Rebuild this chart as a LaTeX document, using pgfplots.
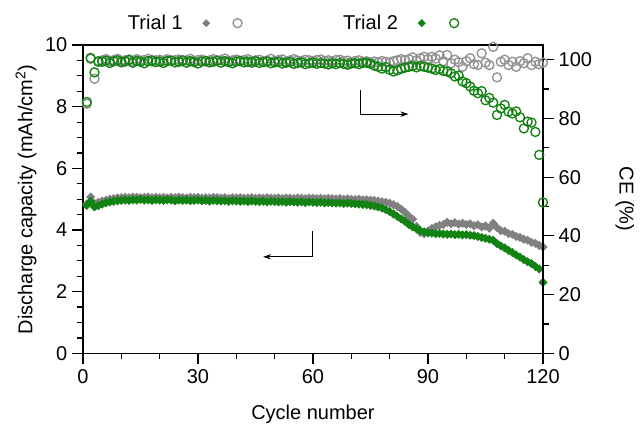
\documentclass[border=0pt]{standalone}
\usepackage{fontspec}
\setmainfont{Liberation Sans}
\usepackage{pgfplots}
\usepackage{pgfplotstable}
\pgfplotsset{compat=1.18}
\usetikzlibrary{arrows.meta}
\definecolor{tgray}{RGB}{128,128,128}
\definecolor{cgray}{RGB}{145,145,145}
\definecolor{tgreen}{RGB}{18,130,18}
\pgfplotstableread{
cycle c1 c2 e1 e2
1 4.85 4.80 85.0 85.6
2 5.07 4.93 100.3 100.6
3 4.86 4.75 93.5 95.7
4 4.90 4.79 99.2 99.5
5 4.94 4.84 99.8 99.3
6 4.97 4.88 100.2 99.7
7 5.00 4.91 99.5 98.9
8 5.02 4.93 99.9 99.5
9 5.04 4.95 100.3 99.8
10 5.05 4.96 99.6 99.1
11 5.06 4.97 99.8 99.4
12 5.05 4.96 100.1 99.9
13 5.07 4.98 99.5 99.0
14 5.06 4.97 100.2 99.6
15 5.05 4.99 99.7 99.3
16 5.06 4.97 99.9 98.8
17 5.07 4.98 100.3 99.5
18 5.05 4.96 99.4 99.8
19 5.06 4.98 99.8 99.2
20 5.05 4.97 100.0 99.4
21 5.06 4.96 99.6 98.9
22 5.04 4.98 100.2 99.6
23 5.06 4.97 99.7 99.7
24 5.05 4.95 99.9 99.1
25 5.07 4.97 100.1 99.3
26 5.05 4.96 99.5 99.8
27 5.04 4.97 99.8 99.0
28 5.06 4.95 100.3 99.5
29 5.05 4.96 99.6 99.2
30 5.06 4.97 99.9 98.7
31 5.04 4.95 100.0 99.4
32 5.05 4.96 99.4 99.6
33 5.04 4.94 99.8 99.1
34 5.06 4.96 100.2 99.3
35 5.05 4.95 99.7 99.7
36 5.04 4.94 99.9 99.0
37 5.05 4.95 100.4 99.5
38 5.03 4.93 99.6 99.2
39 5.05 4.95 99.8 98.8
40 5.04 4.94 100.1 99.4
41 5.05 4.93 99.5 99.6
42 5.03 4.94 99.9 99.1
43 5.04 4.92 100.2 99.3
44 5.05 4.94 99.6 99.0
45 5.03 4.93 99.8 99.5
46 5.04 4.92 100.0 98.9
47 5.03 4.93 99.5 99.2
48 5.05 4.91 99.7 99.4
49 5.04 4.93 100.3 98.8
50 5.03 4.92 99.6 99.1
51 5.04 4.91 99.9 99.3
52 5.02 4.92 100.1 98.7
53 5.04 4.90 99.4 99.0
54 5.03 4.92 99.8 99.2
55 5.02 4.91 100.2 98.6
56 5.04 4.90 99.7 98.9
57 5.03 4.91 99.6 99.1
58 5.02 4.89 100.0 98.5
59 5.04 4.91 99.8 98.8
60 5.03 4.90 99.5 99.0
61 5.02 4.89 99.9 98.6
62 5.03 4.90 100.1 98.9
63 5.01 4.88 99.6 98.7
64 5.03 4.89 99.8 98.4
65 5.02 4.88 99.4 98.8
66 5.01 4.87 99.9 98.5
67 5.02 4.88 100.0 98.9
68 5.00 4.86 99.5 98.6
69 5.01 4.87 99.7 98.3
70 5.00 4.86 99.2 98.7
71 4.99 4.85 99.6 98.8
72 5.00 4.84 99.8 98.5
73 4.98 4.83 99.3 98.9
74 4.98 4.82 99.5 99.0
75 4.97 4.80 99.0 98.6
76 4.96 4.78 99.4 98.0
77 4.94 4.75 99.1 97.6
78 4.92 4.71 99.6 97.0
79 4.90 4.66 99.3 97.5
80 4.87 4.60 99.0 96.6
81 4.82 4.52 99.5 96.0
82 4.76 4.44 99.8 96.4
83 4.68 4.36 100.2 96.9
84 4.57 4.28 99.9 97.3
85 4.45 4.18 100.2 97.6
86 4.35 4.10 100.8 97.9
87 4.12 4.04 99.8 97.4
88 3.92 3.98 100.5 97.9
89 3.88 3.94 101.0 97.6
90 3.97 3.91 100.2 97.3
91 4.05 3.90 101.0 97.0
92 4.10 3.88 100.4 96.5
93 4.15 3.89 101.5 96.8
94 4.18 3.87 99.5 96.2
95 4.25 3.86 101.6 96.0
96 4.20 3.87 98.8 95.4
97 4.24 3.85 100.0 94.3
98 4.19 3.86 99.2 94.6
99 4.22 3.84 97.6 92.6
100 4.18 3.85 99.5 92.0
101 4.20 3.83 100.5 90.9
102 4.14 3.82 98.5 89.4
103 4.17 3.79 98.2 88.6
104 4.10 3.76 102.2 89.3
105 4.13 3.73 99.0 86.2
106 4.06 3.70 98.2 87.0
107 4.22 3.67 104.4 85.4
108 4.08 3.56 94.0 81.2
109 3.98 3.48 99.3 83.4
110 3.96 3.42 100.0 84.6
111 3.88 3.34 98.2 82.3
112 3.86 3.27 99.3 81.7
113 3.79 3.19 97.6 82.4
114 3.76 3.12 99.5 80.4
115 3.70 3.04 98.8 76.6
116 3.67 2.97 100.5 78.9
117 3.60 2.91 98.2 78.6
118 3.57 2.82 99.3 75.4
119 3.50 2.74 98.5 67.6
120 3.45 2.30 99.0 51.4
}\data
\pgfplotsset{
  common/.style={
    scale only axis, width=345pt, height=231.2pt,
    xmin=0, xmax=120,
    tick align=outside,
    major tick length=8.25pt, minor tick length=4.5pt,
    every tick/.style={black, line width=0.9pt},
    axis line style={line width=0.9pt},
    tick label style={font=\fontsize{15}{18}\selectfont},
    label style={font=\fontsize{15}{18}\selectfont},
    /pgf/number format/assume math mode=true,
    clip=false,
  },
  dmd/.style={only marks, mark=square*, mark size=2.2pt, mark options={rotate=45}},
}
\begin{document}
\begin{tikzpicture}[font=\fontsize{15}{18}\selectfont]
\path[use as bounding box] (-62.25pt,-55.3pt) rectangle (417.75pt,265pt);
\begin{axis}[
  common,
  ymin=0, ymax=10,
  xtick={0,30,...,120}, minor x tick num=2,
  ytick={0,2,...,10}, minor y tick num=3,
  xtick pos=left, ytick pos=left,
  xlabel={Cycle number},
  ylabel={Discharge capacity (mAh/cm\textsuperscript{2})},
  xlabel style={at={(axis description cs:0.5,-0.197)}, anchor=center},
  ylabel style={at={(axis description cs:-0.124,0.5)}, anchor=center},
]
\addplot[dmd, color=tgray] table[x=cycle, y=c1]{\data};
\addplot[dmd, color=tgreen] table[x=cycle, y=c2]{\data};
\draw[line width=0.6pt, -{Stealth[length=6pt,width=4pt]}] (axis cs:59.8,3.97) -- (axis cs:59.8,3.13) -- (axis cs:47,3.13);
\draw[line width=0.6pt, -{Stealth[length=6pt,width=4pt]}] (axis cs:72.3,8.54) -- (axis cs:72.3,7.76) -- (axis cs:84.9,7.76);
\end{axis}
\begin{axis}[
  common,
  ymin=0, ymax=105,
  axis x line=none, axis y line*=right,
  ytick={0,20,...,100}, minor y tick num=1,
  ylabel={CE (\%)},
  ylabel style={at={(axis description cs:1.178,0.5)}, anchor=center, rotate=180},
  legend columns=4, legend plot pos=right,
  legend style={at={(axis description cs:0.0978,1.071)}, anchor=west, draw=none, fill=none,
    inner sep=0pt, outer sep=0pt, column sep=0pt, row sep=0pt,
    nodes={inner sep=0pt, outer sep=0pt, font=\fontsize{15}{18}\selectfont}},
]
\addlegendimage{legend image code/.code={\path[draw=none,fill=none] (0pt,-4pt) rectangle (22.5pt,4pt); \draw[only marks, mark=square*, mark size=1.9pt, mark options={rotate=45}, tgray] plot coordinates {(17.55pt,0pt)};}}
\addlegendentry{Trial 1}
\addlegendimage{legend image code/.code={\path[draw=none,fill=none] (0pt,-4pt) rectangle (96.7pt,4pt); \draw[only marks, mark=o, mark size=3.4pt, cgray, line width=1pt] plot coordinates {(17.55pt,0pt)};}}
\addlegendentry{\mbox{}}
\addlegendimage{legend image code/.code={\path[draw=none,fill=none] (0pt,-4pt) rectangle (22.5pt,4pt); \draw[only marks, mark=square*, mark size=1.9pt, mark options={rotate=45}, tgreen] plot coordinates {(17.9pt,0pt)};}}
\addlegendentry{Trial 2}
\addlegendimage{legend image code/.code={\path[draw=none,fill=none] (0pt,-4pt) rectangle (22.5pt,4pt); \draw[only marks, mark=o, mark size=3.4pt, tgreen, line width=1pt] plot coordinates {(18.7pt,0pt)};}}
\addlegendentry{\mbox{}}
\addplot[forget plot, only marks, mark=o, mark size=3.4pt, line width=1pt, color=cgray] table[x=cycle, y=e1]{\data};
\addplot[forget plot, only marks, mark=o, mark size=3.4pt, line width=1pt, color=tgreen] table[x=cycle, y=e2]{\data};
\end{axis}
\end{tikzpicture}
\end{document}
